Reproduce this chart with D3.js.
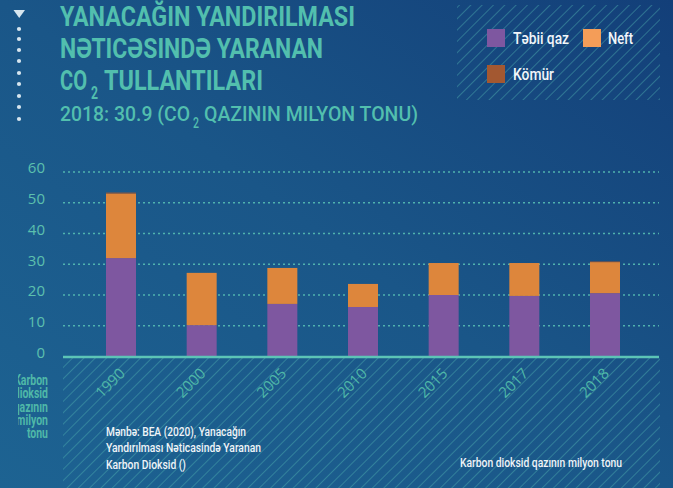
<!DOCTYPE html>
<html>
<head>
<meta charset="utf-8">
<script src="https://cdn.jsdelivr.net/npm/d3@7"></script>
<style>
html,body{margin:0;padding:0;background:#1a5586;overflow:hidden;}
svg{display:block;}
</style>
</head>
<body>
<svg id="chart" width="673" height="488"></svg>
<script>
// ---- data ----
const years = ["1990","2000","2005","2010","2015","2017","2018"];
const gas  = [32.0, 10.2, 17.1, 16.1, 20.0, 19.7, 20.6];
const oil  = [21.0, 17.0, 11.7,  7.5, 10.4, 10.7, 10.1];
const coal = [0.3,  0,    0,     0,    0,    0,    0.2];
const seriesNames = ["Təbii qaz", "Neft", "Kömür"];
const seriesColors = ["#7e57a0", "#dd863c", "#a35831"];
const legendColors = ["#7e57a0", "#f49d58", "#a35831"];
const yTicks = [0, 10, 20, 30, 40, 50, 60];

const W = 673, H = 488;
const svg = d3.select("#chart");
const defs = svg.append("defs");

// background gradient
const bg = defs.append("linearGradient").attr("id","bg")
  .attr("x1","0").attr("y1","1").attr("x2","1").attr("y2","0");
bg.append("stop").attr("offset","0").attr("stop-color","#1d6392");
bg.append("stop").attr("offset","0.5").attr("stop-color","#1a5688");
bg.append("stop").attr("offset","1").attr("stop-color","#133f79");
svg.append("rect").attr("width",W).attr("height",H).attr("fill","url(#bg)");

// hatch pattern
const pat = defs.append("pattern").attr("id","hatch").attr("patternUnits","userSpaceOnUse")
  .attr("width",8).attr("height",8).attr("patternTransform","rotate(45)");
pat.append("line").attr("x1",0).attr("y1",0).attr("x2",0).attr("y2",8)
  .attr("stroke","#4fb3b0").attr("stroke-width",1.6).attr("stroke-opacity",0.55);

// clip for left unit label
defs.append("clipPath").attr("id","leftclip").append("rect")
  .attr("x",18).attr("y",360).attr("width",60).attr("height",100);

// hatched areas
svg.append("rect").attr("x",457).attr("y",5).attr("width",203).attr("height",95).attr("fill","url(#hatch)");
svg.append("rect").attr("x",63).attr("y",358).attr("width",597).attr("height",130).attr("fill","url(#hatch)");

// left decoration
svg.append("path").attr("d","M13.5,10 L25,10 L19.2,18 Z").attr("fill","#d7e6ef");
[29,39,50,61,73,84,96,107,119].forEach(y=>{
  svg.append("circle").attr("cx",19).attr("cy",y).attr("r",2.1).attr("fill","#d7e6ef");
});

// titles
const teal = "#52bfae";
function ctext(str, x, y, size, len, color, weight){
  return svg.append("text").attr("x",x).attr("y",y).text(str)
    .attr("font-family","Roboto, 'DejaVu Sans', sans-serif")
    .attr("font-weight",weight||700).attr("font-size",size)
    .attr("fill",color).attr("textLength",len).attr("lengthAdjust","spacingAndGlyphs");
}
ctext("YANACAĞIN YANDIRILMASI", 60, 26, 28, 295, teal);
ctext("NƏTICƏSINDƏ YARANAN", 60, 58, 28, 263, teal);
ctext("CO", 60, 90, 28, 27, teal);
ctext("2", 91, 99, 18, 7, teal);
ctext("TULLANTILARI", 104, 90, 28, 159, teal);
ctext("2018: 30.9 (CO", 60, 121, 21, 130, teal, 500);
ctext("2", 193, 128, 14, 6, teal, 500);
ctext("QAZININ MILYON TONU)", 204, 121, 21, 214, teal, 500);

// legend
const legendPos = [[487,29,513,"Təbii qaz",56],[583,29,608,"Neft",25],[487,65,513,"Kömür",41]];
legendPos.forEach((p,i)=>{
  svg.append("rect").attr("x",p[0]).attr("y",p[1]).attr("width",18).attr("height",18).attr("fill",legendColors[i]);
  ctext(seriesNames[i], p[2], p[1]+15, 16, p[4], "#f2f6fa", 500);
});

// scales
const x = d3.scaleBand().domain(years).range([106, 620]).paddingInner(0.628).paddingOuter(0);
const y = d3.scaleLinear().domain([0, 60]).range([356.5, 172]);

// gridlines
svg.append("g").selectAll("line").data(yTicks.filter(d=>d>0)).join("line")
  .attr("x1",63).attr("x2",659).attr("y1",d=>y(d)).attr("y2",d=>y(d))
  .attr("stroke","#56bdb3").attr("stroke-width",1.6).attr("stroke-dasharray","2,3").attr("stroke-opacity",0.9);

// y axis labels
const yAxis = svg.append("g").attr("transform","translate(63,-4)")
  .call(d3.axisLeft(y).tickValues(yTicks).tickSize(0).tickPadding(18));
yAxis.select(".domain").remove();
yAxis.selectAll("text").attr("font-family","'Open Sans', Lato, sans-serif").attr("font-size",15)
  .attr("fill","#5cc0ae");

// stacked bars
const rows = years.map((yr,i)=>({year:yr, gas:gas[i], oil:oil[i], coal:coal[i]}));
const stack = d3.stack().keys(["gas","oil","coal"])(rows);
svg.append("g").selectAll("g").data(stack).join("g")
  .attr("fill",(d,i)=>seriesColors[i])
  .selectAll("rect").data(d=>d).join("rect")
  .attr("x",d=>x(d.data.year)).attr("width",x.bandwidth())
  .attr("y",d=>y(d[1])).attr("height",d=>Math.max(0, y(d[0])-y(d[1])));

// baseline
svg.append("line").attr("x1",63).attr("x2",659).attr("y1",y(0)+0.5).attr("y2",y(0)+0.5)
  .attr("stroke","#5cc4b6").attr("stroke-width",2.5);

// x axis labels
const xAxis = svg.append("g").attr("transform",`translate(0,${y(0)})`)
  .call(d3.axisBottom(x).tickSize(0).tickPadding(0));
xAxis.select(".domain").remove();
xAxis.selectAll("text")
  .attr("font-family","'Open Sans', Lato, sans-serif").attr("font-size",15)
  .attr("fill","#4fb8a8").attr("text-anchor","end").attr("dy",0)
  .attr("transform","translate(5,18) rotate(-45)").attr("y",0).attr("x",0);

// left unit label (clipped at left)
const unitLines = ["Karbon","dioksid","qazının","milyon","tonu"];
const unitG = svg.append("g").attr("clip-path","url(#leftclip)");
unitLines.forEach((t,i)=>{
  unitG.append("text").attr("x",0).attr("y",0).text(t)
    .attr("text-anchor","end").attr("font-family","Roboto, sans-serif").attr("font-weight",700)
    .attr("font-size",14).attr("fill","#4fb8a8")
    .attr("transform",`translate(48,${385+i*13.3}) scale(0.75,1)`);
});

// source
const srcLines = ["Mənbə: BEA (2020), Yanacağın","Yandırılması Nəticasində Yaranan","Karbon Dioksid ()"];
const srcLens = [140, 155, 80];
srcLines.forEach((t,i)=>{
  ctext(t, 106, 436+i*16.3, 12.5, srcLens[i], "#f0f4f8", 500);
});
ctext("Karbon dioksid qazının milyon tonu", 460, 467, 12.5, 162, "#f0f4f8", 500);
</script>
</body>
</html>
